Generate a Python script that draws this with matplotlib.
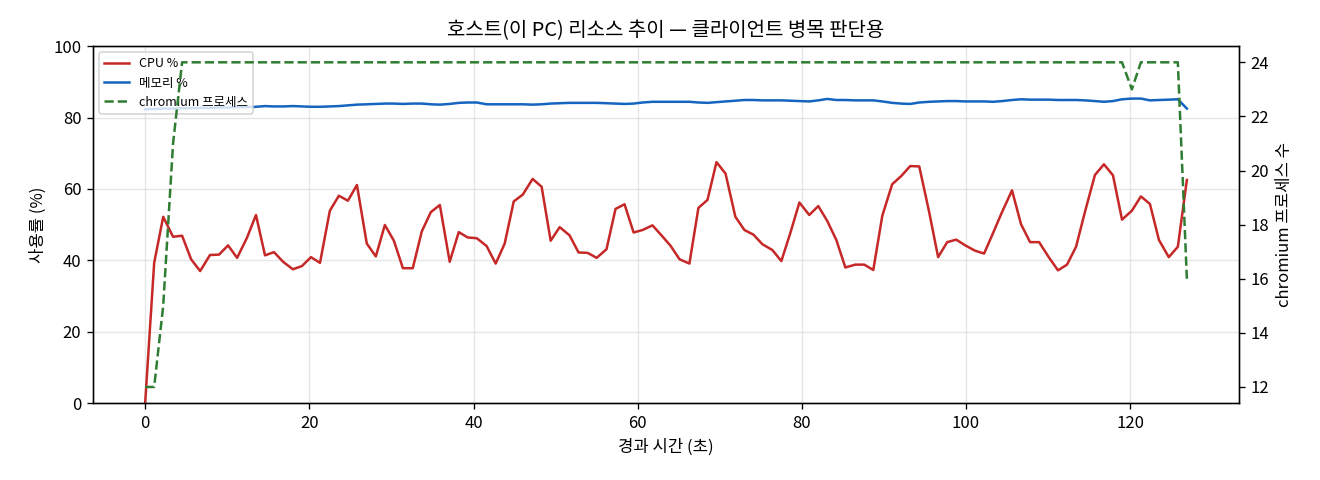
import matplotlib
matplotlib.use('Agg')
import matplotlib.pyplot as plt

plt.rcParams['font.family'] = ['Noto Sans CJK KR', 'DejaVu Sans']
plt.rcParams['axes.unicode_minus'] = False

# 경과 시간 (초)
elapsed = [0.0, 1.1, 2.2, 3.4, 4.5, 5.6, 6.7, 7.9, 9.0, 10.1,
           11.2, 12.4, 13.5, 14.6, 15.7, 16.8, 18.0, 19.1, 20.2, 21.3,
           22.5, 23.6, 24.7, 25.8, 27.0, 28.1, 29.2, 30.3, 31.4, 32.6,
           33.7, 34.8, 35.9, 37.1, 38.2, 39.3, 40.4, 41.6, 42.7, 43.8,
           44.9, 46.0, 47.2, 48.3, 49.4, 50.5, 51.7, 52.8, 53.9, 55.0,
           56.2, 57.3, 58.4, 59.5, 60.6, 61.8, 62.9, 64.0, 65.1, 66.3,
           67.4, 68.5, 69.6, 70.7, 71.9, 73.0, 74.1, 75.2, 76.4, 77.5,
           78.6, 79.7, 80.9, 82.0, 83.1, 84.2, 85.3, 86.5, 87.6, 88.7,
           89.8, 91.0, 92.1, 93.2, 94.3, 95.5, 96.6, 97.7, 98.8, 99.9,
           101.1, 102.2, 103.3, 104.4, 105.6, 106.7, 107.8, 108.9, 110.1, 111.2,
           112.3, 113.4, 114.5, 115.7, 116.8, 117.9, 119.0, 120.2, 121.3, 122.4,
           123.5, 124.7, 125.8, 126.9]

cpu = [0.0, 39.3, 52.2, 46.6, 46.9, 40.3, 37.0, 41.5, 41.6, 44.2,
       40.7, 46.3, 52.7, 41.4, 42.3, 39.6, 37.5, 38.4, 40.9, 39.3,
       53.9, 58.1, 56.7, 61.1, 44.7, 41.1, 49.9, 45.5, 37.8, 37.8,
       48.1, 53.5, 55.5, 39.6, 47.9, 46.4, 46.2, 44.0, 39.1, 44.7,
       56.5, 58.4, 62.8, 60.6, 45.5, 49.3, 47.0, 42.2, 42.1, 40.7,
       43.1, 54.4, 55.7, 47.8, 48.5, 49.8, 47.0, 44.1, 40.3, 39.1,
       54.7, 56.9, 67.5, 64.3, 52.2, 48.5, 47.2, 44.5, 42.9, 39.8,
       47.7, 56.2, 52.7, 55.2, 51.0, 45.7, 38.0, 38.8, 38.8, 37.3,
       52.5, 61.3, 63.6, 66.4, 66.3, 53.6, 40.9, 45.1, 45.8, 44.2,
       42.7, 41.9, 47.7, 53.6, 59.6, 50.1, 45.1, 45.1, 40.8, 37.2,
       38.8, 43.8, 53.7, 63.9, 66.9, 63.8, 51.4, 53.9, 57.9, 55.8,
       45.7, 40.9, 43.8, 62.5]

memory = [82.3, 82.4, 82.5, 82.5, 82.6, 82.6, 82.7, 82.7, 82.8, 82.8,
          82.9, 82.9, 83.0, 83.2, 83.1, 83.1, 83.2, 83.1, 83.0, 83.0,
          83.1, 83.2, 83.4, 83.6, 83.7, 83.8, 83.9, 83.9, 83.8, 83.9,
          83.9, 83.7, 83.6, 83.8, 84.1, 84.2, 84.2, 83.7, 83.7, 83.7,
          83.7, 83.7, 83.6, 83.7, 83.9, 84.0, 84.1, 84.1, 84.1, 84.1,
          84.0, 83.9, 83.8, 83.9, 84.2, 84.4, 84.4, 84.4, 84.4, 84.4,
          84.2, 84.1, 84.3, 84.5, 84.7, 84.9, 84.9, 84.8, 84.8, 84.8,
          84.7, 84.6, 84.5, 84.8, 85.2, 84.9, 84.9, 84.8, 84.8, 84.8,
          84.5, 84.1, 83.9, 83.8, 84.2, 84.4, 84.5, 84.6, 84.6, 84.5,
          84.5, 84.5, 84.4, 84.6, 84.9, 85.1, 85.0, 85.0, 85.0, 84.9,
          84.9, 84.9, 84.8, 84.6, 84.4, 84.6, 85.1, 85.3, 85.3, 84.8,
          84.9, 85.0, 85.1, 82.5]

chromium = [12, 12, 15, 21, 24, 24, 24, 24, 24, 24,
            24, 24, 24, 24, 24, 24, 24, 24, 24, 24,
            24, 24, 24, 24, 24, 24, 24, 24, 24, 24,
            24, 24, 24, 24, 24, 24, 24, 24, 24, 24,
            24, 24, 24, 24, 24, 24, 24, 24, 24, 24,
            24, 24, 24, 24, 24, 24, 24, 24, 24, 24,
            24, 24, 24, 24, 24, 24, 24, 24, 24, 24,
            24, 24, 24, 24, 24, 24, 24, 24, 24, 24,
            24, 24, 24, 24, 24, 24, 24, 24, 24, 24,
            24, 24, 24, 24, 24, 24, 24, 24, 24, 24,
            24, 24, 24, 24, 24, 24, 24, 23, 24, 24,
            24, 24, 24, 16]

fig, ax1 = plt.subplots(figsize=(11, 4), dpi=120)
fig.subplots_adjust(left=0.0705, right=0.9386, top=0.904, bottom=0.16)

l1, = ax1.plot(elapsed, cpu, color='#c62828', lw=1.5, label='CPU %')
l2, = ax1.plot(elapsed, memory, color='#1565c0', lw=1.5, label='메모리 %')
ax1.set_ylim(0, 100)
ax1.set_xlabel('경과 시간 (초)', fontsize=10)
ax1.set_ylabel('사용률 (%)', fontsize=10)
ax1.tick_params(labelsize=10)
ax1.grid(True, alpha=0.3)

ax2 = ax1.twinx()
l3, = ax2.plot(elapsed, chromium, color='#2e7d32', lw=1.5, ls='--', label='chromium 프로세스')
ax2.set_ylabel('chromium 프로세스 수', fontsize=10)
ax2.tick_params(labelsize=10)

ax1.legend(handles=[l1, l2, l3], loc='upper left', fontsize=7.5)
ax1.set_title('호스트(이 PC) 리소스 추이 — 클라이언트 병목 판단용', fontsize=12)

plt.savefig('out.png', dpi=120)
